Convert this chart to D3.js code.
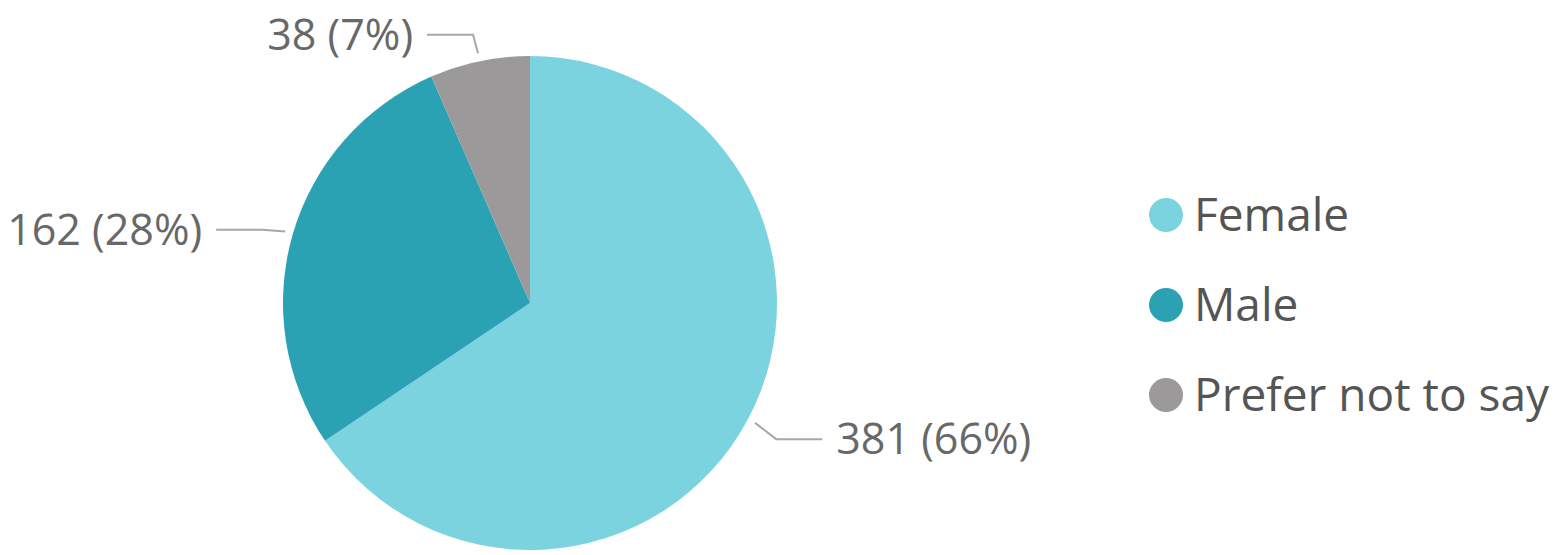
<!DOCTYPE html>
<html>
<head>
<meta charset="utf-8">
<script src="https://cdn.jsdelivr.net/npm/d3@7/dist/d3.min.js"></script>
<style>
  html, body { margin: 0; padding: 0; background: #ffffff; }
  svg { display: block; }
  text { font-family: "Open Sans", "Noto Sans", sans-serif; }
</style>
</head>
<body>
<svg id="chart" width="1559" height="555"></svg>
<script>
// Respondents by gender
const categories = ["Female", "Male", "Prefer not to say"];
const counts = [381, 162, 38];
const colors = ["#7bd3df", "#2aa2b4", "#9b999a"];

const width = 1559, height = 555;
const cx = 530, cy = 303, radius = 247;

const svg = d3.select("#chart");
const total = d3.sum(counts);
const pct = d3.format(".0%");

const color = d3.scaleOrdinal().domain(categories).range(colors);

const data = categories.map((c, i) => ({ name: c, value: counts[i] }));
const pie = d3.pie().sort(null).value(d => d.value);
const arcs = pie(data);
const arc = d3.arc().innerRadius(0).outerRadius(radius);

const g = svg.append("g").attr("transform", `translate(${cx},${cy})`);

g.selectAll("path.slice")
  .data(arcs)
  .join("path")
  .attr("class", "slice")
  .attr("d", arc)
  .attr("fill", d => color(d.data.name));

// Leader lines and data labels
const startArc = d3.arc().innerRadius(radius + 8).outerRadius(radius + 8);
const elbowArc = d3.arc().innerRadius(radius + 32).outerRadius(radius + 32);
const run = 46, gap = 14, drop = 5;

arcs.forEach(d => {
  const mid = (d.startAngle + d.endAngle) / 2;
  const right = Math.sin(mid) > 0;
  const p0 = startArc.centroid(d);
  const e = elbowArc.centroid(d);
  const p1 = [e[0], e[1] + drop];
  const p2 = [p1[0] + (right ? run : -run), p1[1]];
  g.append("polyline")
    .attr("points", [p0, p1, p2].map(p => p.join(",")).join(" "))
    .attr("fill", "none")
    .attr("stroke", "#a8a8a8")
    .attr("stroke-width", 2);
  g.append("text")
    .attr("x", p2[0] + (right ? gap : -gap))
    .attr("y", p2[1])
    .attr("dy", "0.35em")
    .attr("text-anchor", right ? "start" : "end")
    .attr("font-size", 43)
    .attr("fill", "#686868")
    .text(`${d.data.value} (${pct(d.data.value / total)})`);
});

// Legend
const legend = svg.append("g").attr("transform", "translate(1166,215)");
const rows = legend.selectAll("g")
  .data(categories)
  .join("g")
  .attr("transform", (d, i) => `translate(0,${i * 90})`);
rows.append("circle")
  .attr("r", 17)
  .attr("fill", d => color(d));
rows.append("text")
  .attr("x", 28)
  .attr("dy", "0.35em")
  .attr("font-size", 46)
  .attr("fill", "#555555")
  .text(d => d);
</script>
</body>
</html>
